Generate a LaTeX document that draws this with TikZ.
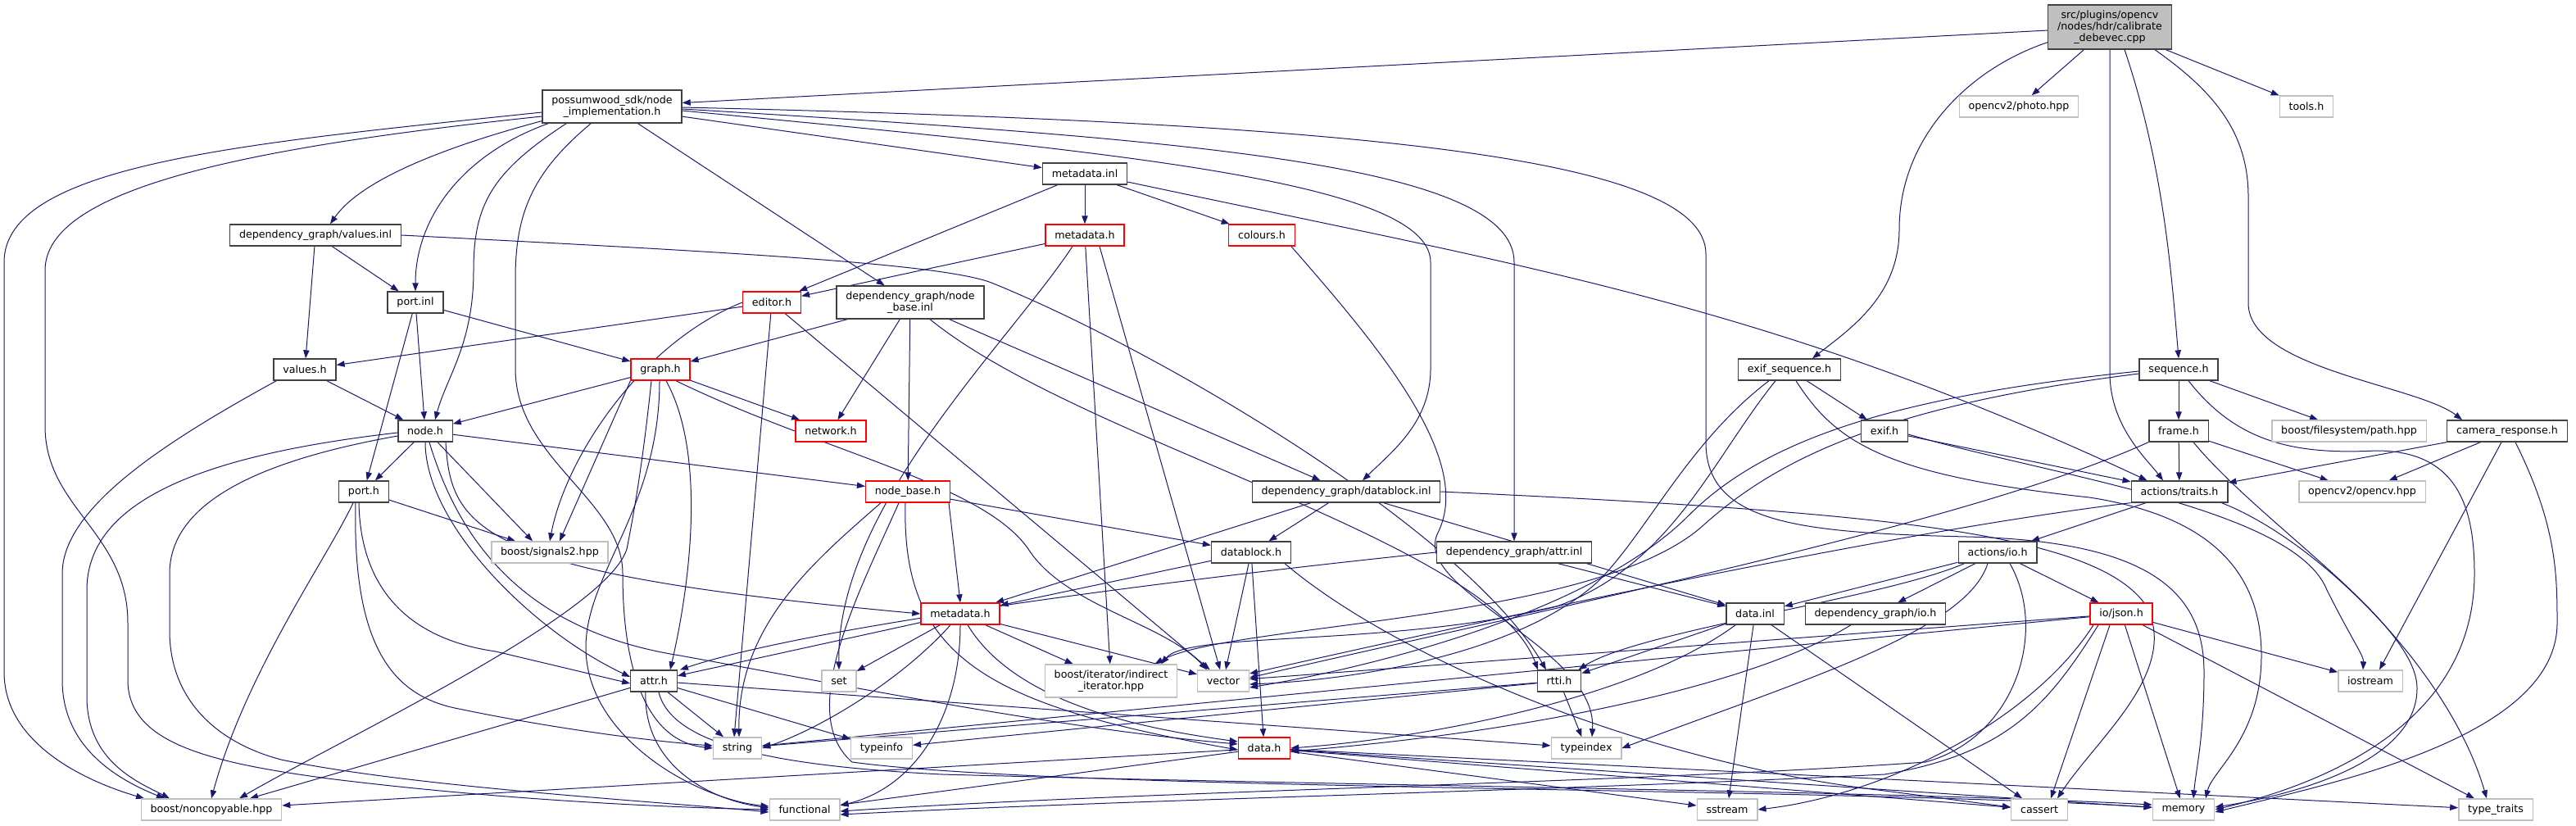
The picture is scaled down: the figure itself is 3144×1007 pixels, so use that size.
\documentclass[tikz,border=0pt]{standalone}
\usepackage{fontspec}
\setmainfont{DejaVu Sans}
\usepackage{tikz}
\usetikzlibrary{arrows.meta,calc}
\definecolor{edgeblue}{HTML}{191970}
\definecolor{docline}{HTML}{404040}
\definecolor{trunc}{HTML}{FF0000}
\definecolor{sysline}{HTML}{BFBFBF}
\pgfdeclarelayer{bg}
\pgfsetlayers{bg,main}

\begin{document}
\begin{tikzpicture}[x=0.75pt,y=-0.75pt,
  file/.style={draw=docline,line width=1pt,fill=white,inner xsep=8.5pt,inner ysep=5pt,
    minimum height=19.5pt,align=center,font=\fontsize{9.5}{10.5}\selectfont},
  redfile/.style={file,draw=trunc},
  sysfile/.style={file,draw=sysline},
  mainfile/.style={file,fill=sysline,draw=docline},
  edge/.style={draw=edgeblue,line width=0.75pt,-{Triangle[length=7.5pt,width=5.5pt]}}]
\useasboundingbox (0,0) rectangle (3144,1007);
% files, row by row
\node[mainfile] (cpp) at (2575,33) {src/plugins/opencv\\/nodes/hdr/calibrate\\\_debevec.cpp};
\node[file] (ni) at (747,130) {possumwood\_sdk/node\\\_implementation.h};
\node[sysfile] (photo) at (2464,130) {opencv2/photo.hpp};
\node[sysfile] (tools) at (2815,130) {tools.h};
\node[file] (metainl) at (1324,212) {metadata.inl};
\node[file] (valuesinl) at (385,287) {dependency\_graph/values.inl};
\node[redfile] (metahsdk) at (1324,287) {metadata.h};
\node[redfile] (colours) at (1540,287) {colours.h};
\node[redfile] (editor) at (942,369) {editor.h};
\node[file] (nbinl) at (1111,369) {dependency\_graph/node\\\_base.inl};
\node[file] (portinl) at (507,369) {port.inl};
\node[file] (valuesh) at (372,451) {values.h};
\node[redfile] (graphh) at (806,451) {graph.h};
\node[file] (exifseq) at (2184,451) {exif\_sequence.h};
\node[file] (seqh) at (2659,451) {sequence.h};
\node[redfile] (networkh) at (1014,526) {network.h};
\node[file] (nodeh) at (519,526) {node.h};
\node[file] (exifh) at (2300,526) {exif.h};
\node[file] (frameh) at (2659,526) {frame.h};
\node[sysfile] (pathhpp) at (2867,526) {boost/filesystem/path.hpp};
\node[file] (camresp) at (3060,526) {camera\_response.h};
\node[file] (porth) at (444,600) {port.h};
\node[redfile] (nbh) at (1108,600) {node\_base.h};
\node[file] (dbinl) at (1643,600) {dependency\_graph/datablock.inl};
\node[file] (traits) at (2660,600) {actions/traits.h};
\node[sysfile] (opencvhpp) at (2883,600) {opencv2/opencv.hpp};
\node[sysfile] (signals) at (671,674) {boost/signals2.hpp};
\node[file] (dbh) at (1527,674) {datablock.h};
\node[file] (attrinl) at (1848,674) {dependency\_graph/attr.inl};
\node[file] (ioh) at (2438,674) {actions/io.h};
\node[redfile] (metadg) at (1172,749) {metadata.h};
\node[file] (datainl) at (2142,749) {data.inl};
\node[file] (dgioh) at (2289,749) {dependency\_graph/io.h};
\node[redfile] (jsonh) at (2589,749) {io/json.h};
\node[file] (attrh) at (798,831) {attr.h};
\node[sysfile] (set) at (1024,831) {set};
\node[sysfile] (indirect) at (1356,831) {boost/iterator/indirect\\\_iterator.hpp};
\node[sysfile] (vector) at (1493,831) {vector};
\node[file] (rtti) at (1903,831) {rtti.h};
\node[sysfile] (iostream) at (2893,831) {iostream};
\node[sysfile] (string) at (900,913) {string};
\node[sysfile] (typeinfo) at (1076,913) {typeinfo};
\node[redfile] (datah) at (1543,913) {data.h};
\node[sysfile] (typeindex) at (1936,913) {typeindex};
\node[sysfile] (noncopy) at (258,988) {boost/noncopyable.hpp};
\node[sysfile] (functional) at (982,988) {functional};
\node[sysfile] (sstream) at (2108,988) {sstream};
\node[sysfile] (cassert) at (2489,988) {cassert};
\node[sysfile] (memory) at (2665,988) {memory};
\node[sysfile] (typetraits) at (3046,988) {type\_traits};

\begin{pgfonlayer}{bg}
% the .cpp file
\draw[edge] (cpp) -- (ni);
\draw[edge] (cpp) -- (photo);
\draw[edge] (cpp) -- (tools);
\draw[edge] ($(cpp.south west)+(0,-9)$) .. controls (2400,85) and (2318,170) .. (2318,280) .. controls (2318,360) and (2260,400) .. ($(exifseq.north)+(28,0)$);
\draw[edge] (cpp.south) -- (2575,455) .. controls (2575,520) and (2620,560) .. ($(traits.north)+(-20,0)$);
\draw[edge] ($(cpp.south)+(18,0)$) .. controls (2640,200) and (2650,330) .. (seqh.north);
\draw[edge] ($(cpp.south east)+(-21,0)$) .. controls (2700,110) and (2744,160) .. (2744,240) -- (2744,370) .. controls (2744,450) and (2950,470) .. ($(camresp.north)+(-55,0)$);
% node_implementation.h
\draw[edge] ($(ni.south west)+(0,-3)$) .. controls (540,180) and (440,220) .. ($(valuesinl.north)+(18,0)$);
\draw[edge] ($(ni.south west)+(8,0)$) .. controls (560,190) and (507,270) .. (portinl.north);
\draw[edge] ($(ni.south west)+(30,0)$) .. controls (600,210) and (578,250) .. (578,330) .. controls (578,420) and (545,460) .. ($(nodeh.north)+(12,0)$);
\draw[edge] ($(ni.south west)+(60,0)$) .. controls (650,210) and (629,260) .. (629,340) -- (629,450) .. controls (629,560) and (760,610) .. (760,700) .. controls (760,820) and (790,905) .. (string.west);
\draw[edge] ($(ni.west)+(0,7)$) .. controls (300,175) and (5,200) .. (5,320) -- (5,820) .. controls (5,910) and (110,955) .. ($(noncopy.north)+(-82,0)$);
\draw[edge] ($(ni.west)+(0,12)$) .. controls (300,180) and (55,230) .. (55,330) -- (55,520) .. controls (55,620) and (156,650) .. (156,760) -- (156,830) .. controls (156,905) and (250,930) .. (400,950) .. controls (600,975) and (800,985) .. (functional.west);
\draw[edge] (ni) -- (metainl);
\draw[edge] (ni) -- (nbinl);
\draw[edge] ($(ni.east)+(0,5)$) .. controls (1350,185) and (1746,220) .. (1746,320) -- (1746,450) .. controls (1746,515) and (1700,550) .. ($(dbinl.north)+(20,0)$);
\draw[edge] ($(ni.east)+(0,3)$) .. controls (1450,170) and (1848,200) .. (1848,320) -- (attrinl.north);
\draw[edge] ($(ni.east)+(0,1)$) .. controls (1650,150) and (2082,190) .. (2082,310) -- (2082,540) .. controls (2082,640) and (2200,650) .. (2400,655) .. controls (2620,660) and (2690,720) .. (2690,820) .. controls (2690,900) and (2680,940) .. ($(memory.north)+(12,0)$);
% metadata.inl
\draw[edge] (metainl) -- (metahsdk);
\draw[edge] (metainl) -- (colours);
\draw[edge] (metainl) -- (editor);
\draw[edge] ($(metainl.east)+(0,10)$) to[out=-12,in=155] ($(traits.north west)+(20,0)$);
% possumwood metadata.h
\draw[edge] (metahsdk) -- (editor);
\draw[edge] ($(metahsdk.south)+(-15,0)$) .. controls (1230,420) and (1020,620) .. (set.north);
\draw[edge] (metahsdk) -- (indirect);
\draw[edge] ($(metahsdk.south)+(18,0)$) -- (vector);
% colours.h
\draw[edge] ($(colours.south east)+(-5,0)$) .. controls (1680,420) and (1800,560) .. (1755,650) .. controls (1720,720) and (1950,790) .. ($(typeindex.north)+(7,0)$);
% editor.h
\draw[edge] (editor) -- (valuesh);
\draw[edge] (editor.west) .. controls (780,420) and (690,560) .. (signals.north);
\draw[edge] (editor) -- ($(string.north)+(-4,0)$);
\draw[edge] (editor) -- (vector);
% node_base.inl
\draw[edge] (nbinl) -- (graphh);
\draw[edge] (nbinl) -- (networkh);
\draw[edge] (nbinl) -- (nbh);
\draw[edge] (nbinl) -- (dbinl);
\draw[edge] ($(nbinl.south)+(24,0)$) .. controls (1320,540) and (1820,660) .. ($(rtti.north)+(-26,0)$);
% port.inl
\draw[edge] (portinl) -- (graphh);
\draw[edge] (portinl) -- (nodeh);
\draw[edge] (portinl) -- (porth);
% values.inl
\draw[edge] (valuesinl) -- (valuesh);
\draw[edge] (valuesinl) -- (portinl);
\draw[edge] (valuesinl.east) .. controls (900,308) and (1150,322) .. (1210,345) .. controls (1420,430) and (1790,650) .. ($(rtti.north)+(-16,0)$);
% values.h
\draw[edge] (valuesh) -- (nodeh);
\draw[edge] ($(valuesh.south west)+(4,0)$) .. controls (200,540) and (76,620) .. (76,700) -- (76,830) .. controls (76,910) and (140,950) .. ($(noncopy.north)+(-57,0)$);
% graph.h
\draw[edge] (graphh) -- (nodeh);
\draw[edge] (graphh) -- (networkh);
\draw[edge] (graphh.south west) -- ($(signals.north)+(12,0)$);
\draw[edge] ($(graphh.south)+(-11,0)$) .. controls (785,560) and (775,620) .. (765,670) .. controls (740,750) and (420,900) .. ($(noncopy.north)+(34,0)$);
\draw[edge] ($(graphh.south)+(-1,0)$) .. controls (805,620) and (715,700) .. (715,790) .. controls (715,900) and (850,975) .. ($(functional.west)+(0,-4)$);
\draw[edge] ($(graphh.south)+(7,0)$) .. controls (860,550) and (845,700) .. ($(attrh.north)+(20,0)$);
\draw[edge] ($(graphh.south)+(19,0)$) .. controls (1000,550) and (1200,590) .. (1255,670) .. controls (1300,740) and (1420,760) .. ($(vector.north)+(-20,0)$);
% node.h
\draw[edge] (nodeh) -- (porth);
\draw[edge] (nodeh) -- (nbh);
\draw[edge] ($(nodeh.south)+(15,0)$) -- ($(signals.north)+(-21,0)$);
\draw[edge] ($(nodeh.west)+(0,2)$) .. controls (250,555) and (106,610) .. (106,720) -- (106,850) .. controls (106,930) and (170,955) .. ($(noncopy.north)+(-51,0)$);
\draw[edge] ($(nodeh.west)+(0,6)$) .. controls (300,565) and (207,620) .. (207,700) -- (207,770) .. controls (207,850) and (260,905) .. (343,927) .. controls (500,960) and (800,978) .. ($(functional.west)+(0,3)$);
\draw[edge] (nodeh.south) .. controls (519,640) and (650,770) .. ($(attrh.west)+(0,-5)$);
\draw[edge] ($(nodeh.south)+(25,0)$) .. controls (550,650) and (590,700) .. (metadg.west);
\draw[edge] ($(nodeh.south)+(5,0)$) .. controls (560,660) and (640,770) .. (830,800) .. controls (1050,840) and (1300,890) .. ($(datah.west)+(0,-5)$);
% port.h
\draw[edge] (porth) -- (signals);
\draw[edge] ($(porth.south)+(-13,0)$) .. controls (400,680) and (300,820) .. (noncopy.north);
\draw[edge] ($(porth.south)+(-6,0)$) .. controls (440,720) and (500,780) .. (605,795) -- ($(attrh.west)+(0,3)$);
\draw[edge] ($(porth.south)+(-10,0)$) .. controls (430,790) and (480,850) .. (560,865) .. controls (680,890) and (800,905) .. ($(string.west)+(0,-3)$);
% node_base.h
\draw[edge] ($(nbh.south)+(50,0)$) -- (metadg.north);
\draw[edge] (nbh) -- (dbh);
\draw[edge] ($(nbh.south)+(-33,0)$) .. controls (1000,680) and (900,760) .. ($(string.north)+(2,0)$);
\draw[edge] ($(nbh.south)+(-3,0)$) .. controls (1100,800) and (1200,860) .. ($(datah.west)+(0,2)$);
\draw[edge] ($(nbh.south)+(-11,0)$) .. controls (1050,720) and (970,870) .. (1040,930) .. controls (1300,965) and (2200,960) .. ($(memory.west)+(0,-3)$);
% datablock.inl
\draw[edge] (dbinl) -- (dbh);
\draw[edge] (dbinl) -- (metadg);
\draw[edge] (dbinl) -- (datainl);
\draw[edge] (dbinl.east) .. controls (2300,625) and (2560,650) .. (2620,740) .. controls (2660,820) and (2560,900) .. ($(cassert.north)+(22,0)$);
% datablock.h
\draw[edge] (dbh) -- (metadg);
\draw[edge] (dbh) -- (vector);
\draw[edge] (dbh) -- (datah);
\draw[edge] ($(dbh.south east)+(-8,0)$) .. controls (1700,800) and (2000,930) .. (2300,965) -- ($(cassert.west)+(0,-3)$);
% attr.inl
\draw[edge] (attrinl.west) .. controls (1500,700) and (1000,760) .. ($(attrh.north east)+(3,0)$);
\draw[edge] (attrinl) -- (datainl);
% dependency_graph metadata.h
\draw[edge] (metadg) -- (attrh);
\draw[edge] (metadg) -- (set);
\draw[edge] ($(metadg.south)+(-12,0)$) .. controls (1100,830) and (1000,890) .. (string.east);
\draw[edge] (metadg.south) .. controls (1172,870) and (1120,960) .. ($(functional.east)+(0,-5)$);
\draw[edge] ($(metadg.south)+(9,0)$) .. controls (1240,860) and (1400,890) .. ($(datah.west)+(0,-8)$);
\draw[edge] (metadg) -- (indirect);
\draw[edge] (metadg) -- (vector);
% attr.h
\draw[edge] (attrh) -- (string);
\draw[edge] (attrh) -- (typeinfo);
\draw[edge] (attrh) -- (typeindex);
\draw[edge] (attrh) -- (noncopy);
\draw[edge] ($(attrh.south)+(-10,0)$) .. controls (785,930) and (860,975) .. ($(functional.west)+(0,-2)$);
\draw[edge] ($(attrh.south)+(6,0)$) .. controls (820,910) and (950,935) .. (1150,945) .. controls (1700,960) and (2300,965) .. ($(memory.west)+(0,-6)$);
% data.inl
\draw[edge] (datainl) -- (rtti);
\draw[edge] ($(datainl.south west)+(12,0)$) .. controls (2000,850) and (1750,900) .. (datah.east);
\draw[edge] (datainl) -- (sstream);
\draw[edge] ($(datainl.south)+(20,0)$) -- ($(cassert.north)+(-21,0)$);
% dependency_graph/io.h
\draw[edge] ($(dgioh.south)+(-30,0)$) .. controls (2150,830) and (1900,890) .. ($(datah.east)+(0,4)$);
% actions/io.h
\draw[edge] (ioh) -- (datainl);
\draw[edge] (ioh) -- (dgioh);
\draw[edge] (ioh) -- (jsonh);
\draw[edge] ($(ioh.south west)+(8,0)$) .. controls (2300,730) and (2000,770) .. ($(rtti.north east)+(-4,0)$);
\draw[edge] ($(ioh.south)+(-12,0)$) .. controls (2400,770) and (2200,830) .. (typeindex.east);
\draw[edge] ($(ioh.south)+(15,0)$) .. controls (2500,770) and (2460,900) .. (2350,930) .. controls (2000,955) and (1400,965) .. ($(functional.east)+(0,2)$);
% io/json.h
\draw[edge] (jsonh) -- (iostream);
\draw[edge] (jsonh) -- (typetraits);
\draw[edge] (jsonh) -- (memory);
\draw[edge] ($(jsonh.south)+(-14,0)$) -- ($(cassert.north)+(14,0)$);
\draw[edge] (jsonh) -- (vector);
\draw[edge] (jsonh) -- (string);
\draw[edge] ($(jsonh.south)+(-28,0)$) .. controls (2500,860) and (2450,920) .. (2300,945) .. controls (1900,965) and (1400,975) .. ($(functional.east)+(0,6)$);
\draw[edge] ($(jsonh.south)+(-34,0)$) .. controls (2480,880) and (2300,970) .. (sstream.east);
% actions/traits.h
\draw[edge] (traits) -- (ioh);
\draw[edge] ($(traits.south east)+(-8,0)$) .. controls (2830,660) and (2990,820) .. ($(typetraits.north)+(-11,0)$);
\draw[edge] (traits.south west) .. controls (2300,650) and (1800,760) .. ($(vector.east)+(0,-9)$);
% frame.h
\draw[edge] (frameh) -- (traits);
\draw[edge] (frameh) -- (opencvhpp);
\draw[edge] (frameh.south west) .. controls (2400,640) and (1900,740) .. ($(vector.east)+(0,-4)$);
\draw[edge] ($(frameh.south)+(18,0)$) .. controls (2760,640) and (2950,760) .. (2950,840) .. controls (2950,930) and (2800,970) .. ($(memory.east)+(0,-3)$);
% exif_sequence.h
\draw[edge] (exifseq) -- (exifh);
\draw[edge] ($(exifseq.south)+(-25,0)$) .. controls (2060,540) and (2010,650) .. (1950,710) .. controls (1850,800) and (1650,830) .. ($(vector.east)+(0,4)$);
\draw[edge] ($(exifseq.south)+(-17,0)$) .. controls (2090,560) and (2040,690) .. (1900,740) .. controls (1700,790) and (1450,770) .. ($(indirect.north east)+(-20,0)$);
\draw[edge] ($(exifseq.south)+(8,0)$) .. controls (2240,540) and (2300,580) .. (2550,607) .. controls (2700,630) and (2760,700) .. (2760,800) .. controls (2760,900) and (2700,940) .. ($(memory.north)+(27,0)$);
% exif.h
\draw[edge] (exifh) -- (traits);
\draw[edge] ($(exifh.east)+(0,4)$) .. controls (2500,580) and (2800,620) .. (2840,720) .. controls (2870,780) and (2885,800) .. ($(iostream.north)+(-9,0)$);
% sequence.h
\draw[edge] (seqh) -- (frameh);
\draw[edge] (seqh) -- (pathhpp);
\draw[edge] ($(seqh.west)+(0,2)$) .. controls (2300,485) and (2150,540) .. (2060,630) .. controls (1950,740) and (1700,810) .. ($(vector.east)+(0,8)$);
\draw[edge] ($(seqh.west)+(0,5)$) .. controls (2300,495) and (2170,560) .. (2080,640) .. controls (1950,760) and (1500,760) .. ($(indirect.north east)+(-28,0)$);
\draw[edge] ($(seqh.south)+(12,0)$) .. controls (2730,540) and (2800,555) .. (2900,550) .. controls (3000,550) and (3020,620) .. (3020,700) .. controls (3020,900) and (2800,965) .. (memory.east);
% camera_response.h
\draw[edge] (camresp) -- (traits);
\draw[edge] (camresp) -- (opencvhpp);
\draw[edge] ($(camresp.south)+(-7,0)$) -- ($(iostream.north)+(11,0)$);
\draw[edge] ($(camresp.south)+(10,0)$) .. controls (3120,640) and (3121,700) .. (3121,760) .. controls (3121,900) and (2850,955) .. ($(memory.east)+(0,3)$);
% rtti.h
\draw[edge] (rtti) -- (typeindex);
\draw[edge] (rtti) -- (string);
\draw[edge] (rtti) -- (typeinfo);
% data.h
\draw[edge] (datah) -- (noncopy);
\draw[edge] (datah) -- (functional);
\draw[edge] (datah) -- (sstream);
\draw[edge] (datah) -- (cassert);
\draw[edge] (datah) -- (memory);
\draw[edge] (datah) -- (typetraits);
\end{pgfonlayer}
\end{tikzpicture}
\end{document}
